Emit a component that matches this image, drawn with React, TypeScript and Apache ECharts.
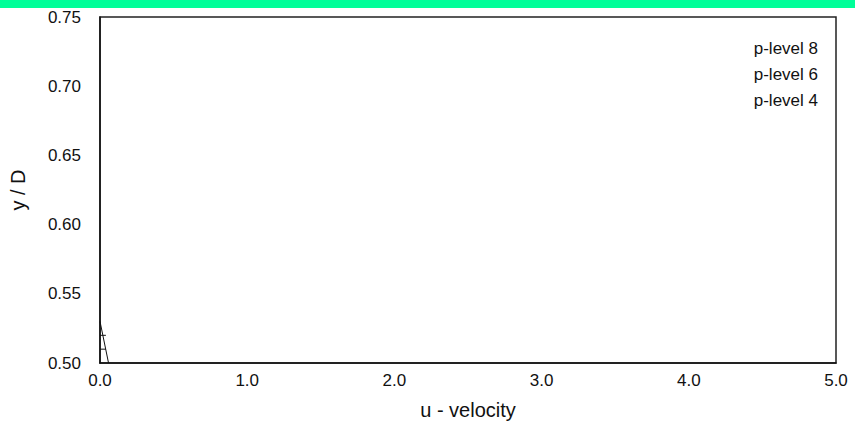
import React, { useEffect, useRef } from "react";
import * as echarts from "echarts";

const seriesNames = ["p-level 8", "p-level 6", "p-level 4"];
const level8: [number, number][] = [
  [0.0, 0.53],
  [0.058, 0.5],
];
const level6: [number, number][] = [
  [0.0, 0.52],
  [0.04, 0.52],
];
const level4: [number, number][] = [
  [0.0, 0.51],
  [0.04, 0.51],
];
const xTicks = [0, 1, 2, 3, 4, 5];
const yTicks = [0.5, 0.55, 0.6, 0.65, 0.7, 0.75];

export default function App() {
  const ref = useRef<HTMLDivElement>(null);
  useEffect(() => {
    document.body.style.margin = "0";
    if (!ref.current) return;
    const chart = echarts.init(ref.current, undefined, { renderer: "svg" });
    const font = "Helvetica, Arial, 'Liberation Sans', sans-serif";
    const seriesData = [level8, level6, level4];
    chart.setOption({
      animation: false,
      backgroundColor: "#ffffff",
      textStyle: { fontFamily: font },
      graphic: [
        {
          type: "rect",
          left: 0,
          top: 0,
          shape: { width: 855, height: 8 },
          style: { fill: "#00FF99" },
          silent: true,
        },
      ],
      legend: {
        orient: "vertical",
        right: 27,
        top: 35,
        align: "right",
        icon: "none",
        itemWidth: 0,
        itemHeight: 14,
        itemGap: 9,
        data: seriesNames,
        textStyle: { fontSize: 17, color: "#111", fontFamily: font, padding: 0 },
      },
      grid: { left: 99, top: 17, width: 737, height: 346, show: true, borderColor: "#222", borderWidth: 1.5, containLabel: false },
      xAxis: {
        type: "value",
        min: xTicks[0],
        max: xTicks[xTicks.length - 1],
        interval: 1,
        name: "u - velocity",
        nameLocation: "middle",
        nameGap: 37,
        nameTextStyle: { fontSize: 20, color: "#111", fontFamily: font, verticalAlign: "top" },
        axisLine: { show: true, lineStyle: { color: "#111", width: 1.5 } },
        axisTick: { show: false },
        splitLine: { show: false },
        axisLabel: { fontSize: 17, color: "#111", margin: 9, formatter: (v: number) => v.toFixed(1) },
      },
      yAxis: {
        type: "value",
        min: yTicks[0],
        max: yTicks[yTicks.length - 1],
        interval: 0.05,
        name: "y / D",
        nameLocation: "middle",
        nameGap: 72,
        nameRotate: 90,
        nameTextStyle: { fontSize: 20, color: "#111", fontFamily: font },
        axisLine: { show: true, lineStyle: { color: "#111", width: 1.5 } },
        axisTick: { show: false },
        splitLine: { show: false },
        axisLabel: { fontSize: 17, color: "#111", margin: 19, formatter: (v: number) => v.toFixed(2) },
      },
      series: seriesNames.map((n, i) => ({
        name: n,
        type: "line",
        data: seriesData[i],
        showSymbol: false,
        symbol: "none",
        lineStyle: { color: "#111", width: 1 },
        itemStyle: { color: "#111" },
      })),
    });
    return () => chart.dispose();
  }, []);
  return <div ref={ref} style={{ width: 855, height: 425 }} />;
}
